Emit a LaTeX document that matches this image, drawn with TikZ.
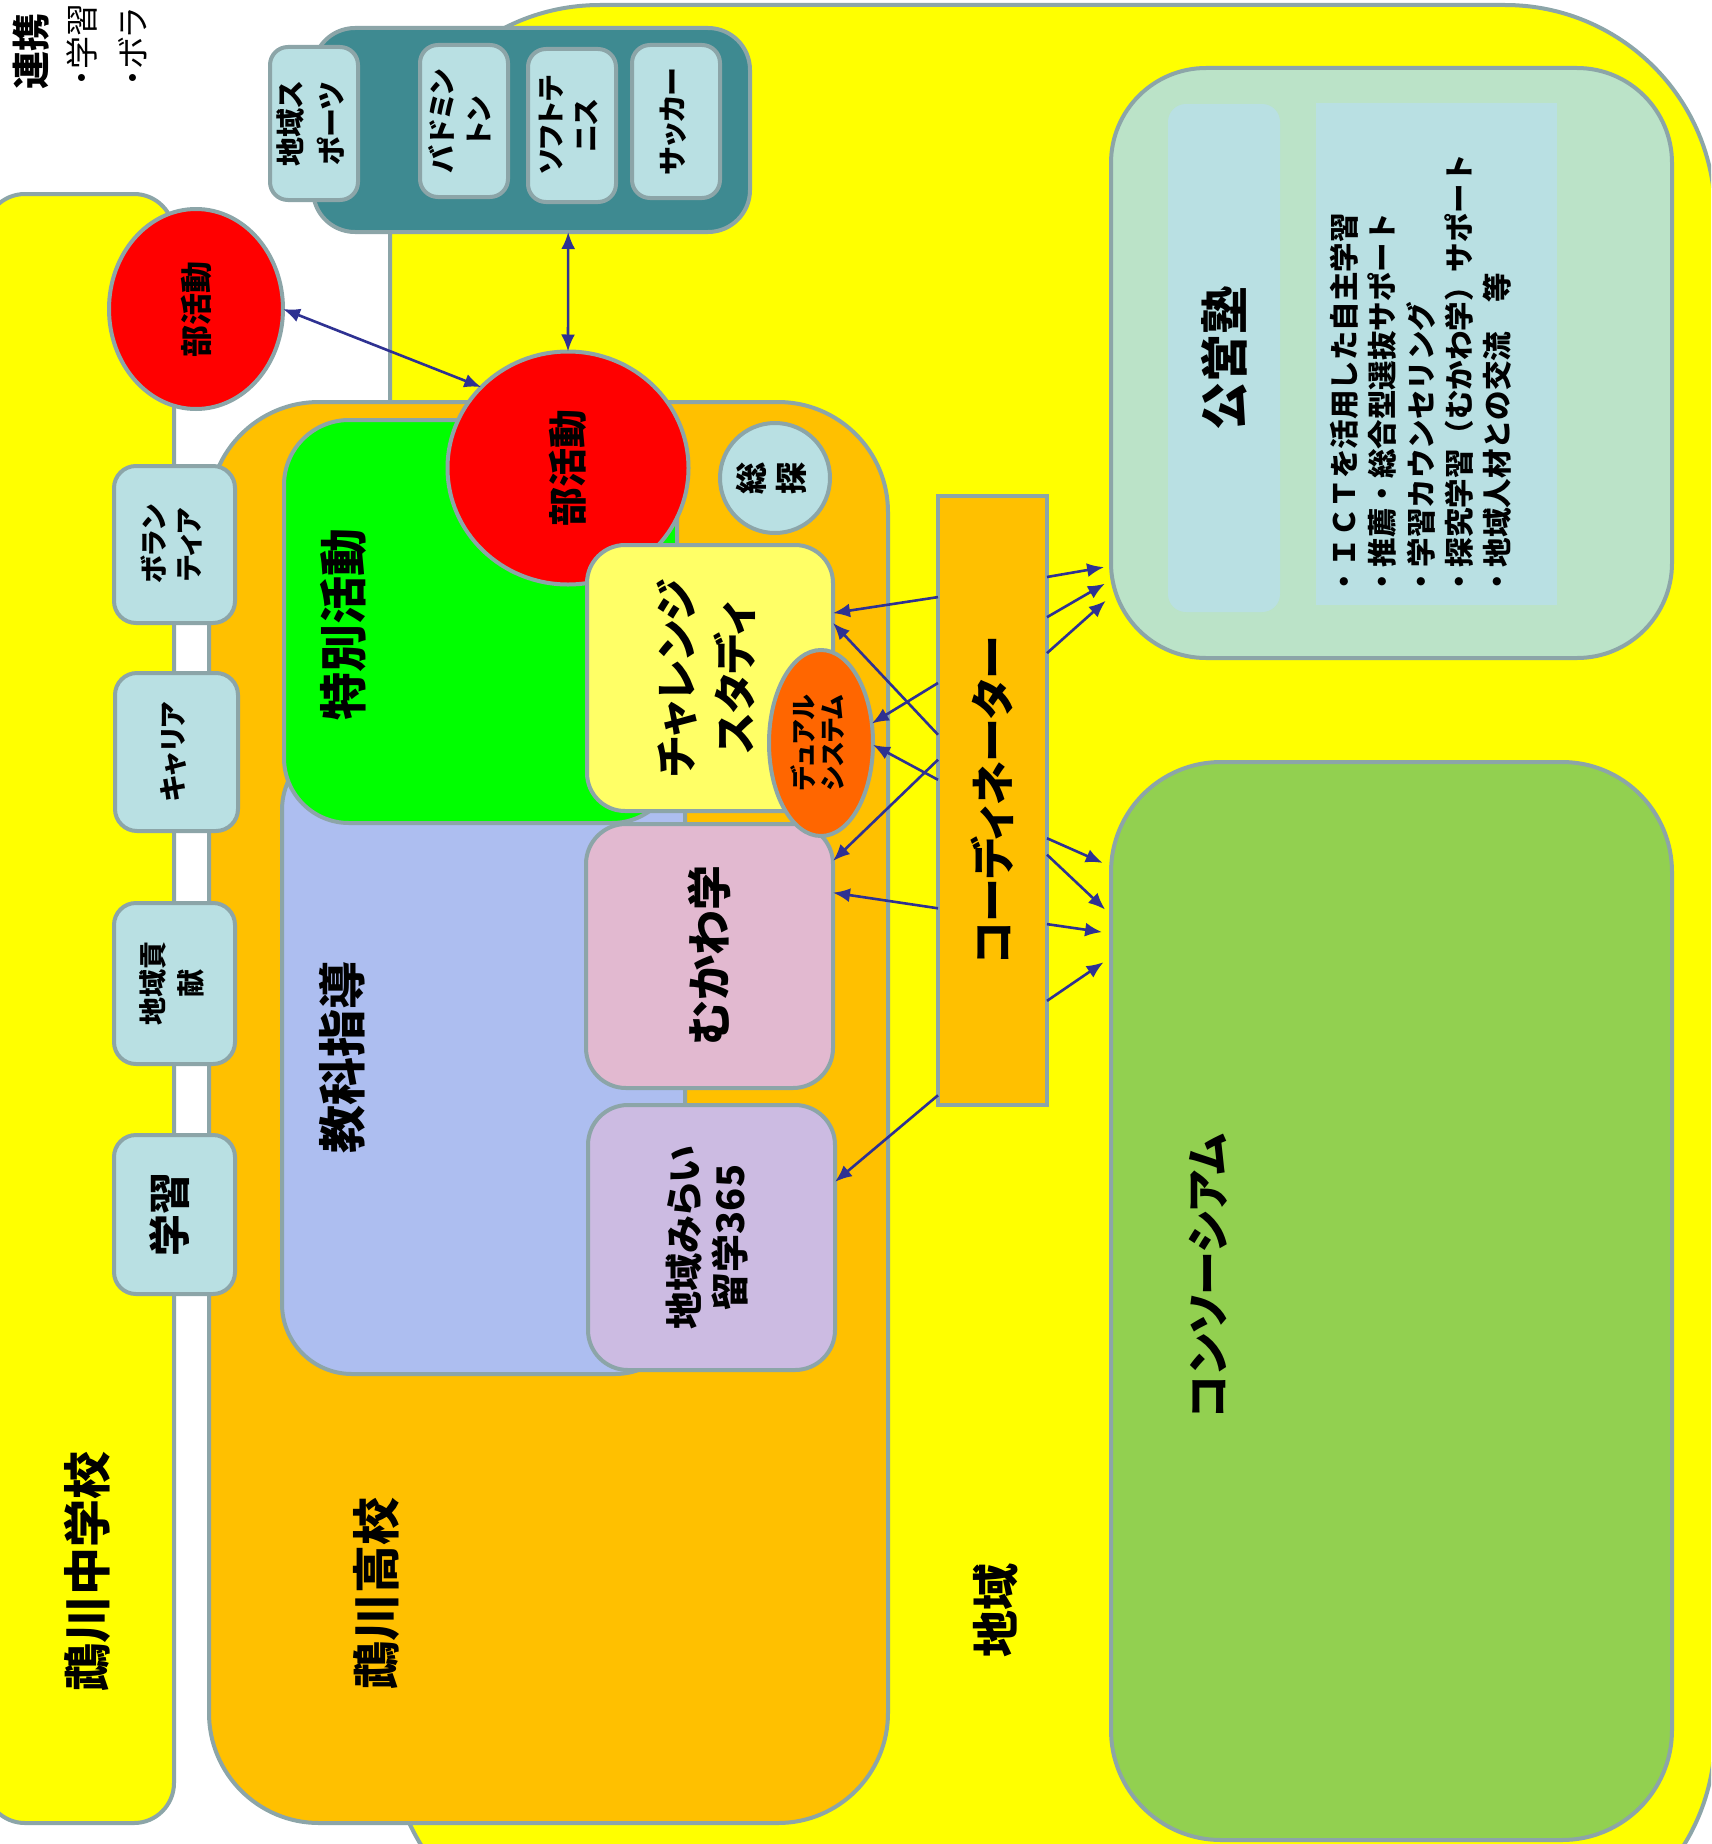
\documentclass[tikz,border=0pt]{standalone}
\usepackage{fontspec}
\setmainfont[RawFeature=+palt]{Noto Sans CJK JP}
\newfontfamily\jpfull{Noto Sans CJK JP}
\usetikzlibrary{calc,arrows.meta,shapes.geometric}
\definecolor{bord}{RGB}{140,165,168}
\definecolor{ylw}{RGB}{255,255,0}
\definecolor{orng}{RGB}{255,192,0}
\definecolor{grn}{RGB}{0,255,0}
\definecolor{blu}{RGB}{173,190,240}
\definecolor{cyanbox}{RGB}{185,224,227}
\definecolor{tealc}{RGB}{62,138,145}
\definecolor{chalc}{RGB}{255,255,102}
\definecolor{dualc}{RGB}{255,102,0}
\definecolor{pinkc}{RGB}{226,185,208}
\definecolor{lavc}{RGB}{204,187,226}
\definecolor{jukuc}{RGB}{187,227,200}
\definecolor{consc}{RGB}{146,208,80}
\definecolor{arrc}{RGB}{46,49,146}
\newcommand\fsz[2]{\fontsize{#1}{#2}\selectfont}
\newcommand\vlab[1]{\rotatebox{90}{\begin{tabular}{@{}c@{}}#1\end{tabular}}}
\begin{document}
\begin{tikzpicture}[x=1pt,y=-1pt,
  region/.style={draw=bord,line width=4pt,inner sep=0pt,outer sep=0pt},
  sbox/.style={region,fill=cyanbox,rounded corners=18pt,align=center},
  lab/.style={rotate=90,inner sep=0pt,align=center},
  arr/.style={draw=arrc,line width=2.6pt,-{Latex[length=17pt,width=14pt]}},
  darr/.style={draw=arrc,line width=2.6pt,{Latex[length=17pt,width=14pt]}-{Latex[length=17pt,width=14pt]}}]
\useasboundingbox (0,0) rectangle (1711,1844);
\fill[white] (0,0) rectangle (1711,1844);
\clip (0,0) rectangle (1711,1844);

% region 地域
\node[region,rounded corners=210pt,fill=ylw,minimum width=1325pt,minimum height=1940pt] (chiiki) at (1052.5,975) {};
\node[lab,font=\bfseries\fsz{47}{56}] (chiikilab) at (996,1610) {地域};

% 中学校
\node[region,rounded corners=40pt,fill=ylw,minimum width=189pt,minimum height=1629pt] (ms) at (79.5,1008.5) {};
\node[lab,font=\bfseries\fsz{48}{56}] (mslab) at (87,1571) {鵡川中学校};

% top-left text
\node[lab,anchor=west,font=\jpfull\bfseries\fsz{38}{44}] (renkei) at (31,90) {連携};
\node[lab,anchor=west,font=\fsz{33}{40}] (renkei2) at (82,86) {・学習};
\node[lab,anchor=west,font=\fsz{33}{40}] (renkei3) at (133,86) {・ボラ};

% small club circle
\node[region,ellipse,fill=red,minimum width=174pt,minimum height=200pt,font=\bfseries\fsz{32}{38}] (club1) at (196,309) {\rotatebox{90}{部活動}};

% teal sports group
\node[region,rounded corners=42pt,fill=tealc,minimum width=437pt,minimum height=204pt] (teal) at (531.5,130) {};
\node[sbox,minimum width=88pt,minimum height=153pt,font=\bfseries\fsz{29}{41}] (sp1) at (314,123.5) {\vlab{地域ス\\ポーツ}};
\node[sbox,minimum width=88pt,minimum height=152pt,font=\bfseries\fsz{28}{37}] (sp2) at (464,121) {\vlab{バドミン\\トン}};
\node[sbox,minimum width=88pt,minimum height=153pt,font=\bfseries\fsz{28}{35}] (sp3) at (572,125.5) {\vlab{ソフトテ\\ニス}};
\node[sbox,minimum width=88pt,minimum height=153pt,font=\bfseries\fsz{29}{36}] (sp4) at (676,121.5) {\vlab{サッカー}};

% 高校
\node[region,rounded corners=110pt,fill=orng,minimum width=679pt,minimum height=1421pt] (hs) at (548.5,1112.5) {};
\node[lab,font=\bfseries\fsz{48}{56}] (hslab) at (376,1593) {鵡川高校};

% 教科指導 / 特別活動
\node[region,rounded corners=70pt,fill=blu,minimum width=403pt,minimum height=634pt] (kyoka) at (483.5,1057) {};
\node[lab,font=\bfseries\fsz{48}{56}] (kyokalab) at (342,1057) {教科指導};
\node[region,rounded corners=65pt,fill=grn,minimum width=393pt,minimum height=403pt] (toku) at (480.5,621.5) {};
\node[lab,font=\bfseries\fsz{48}{56}] (tokulab) at (343,624) {特別活動};

% big club circle
\node[region,ellipse,fill=red,minimum width=241pt,minimum height=233pt,font=\bfseries\fsz{39}{46}] (club2) at (568,468) {\rotatebox{90}{部活動}};

% 総探
\node[region,circle,fill=cyanbox,minimum size=110pt,font=\bfseries\fsz{32}{40}] (souta) at (775,478) {\vlab{総\\探}};

% チャレンジスタディ, むかわ学, デュアル, 地域みらい
\node[region,rounded corners=38pt,fill=chalc,minimum width=246pt,minimum height=266pt,font=\bfseries\fsz{43}{59}] (chal) at (710,678) {\vlab{チャレンジ\\スタディ}};
\node[region,rounded corners=40pt,fill=pinkc,minimum width=247pt,minimum height=264pt,font=\bfseries\fsz{45}{54}] (muka) at (709.5,956) {\rotatebox{90}{むかわ学}};
\node[region,ellipse,fill=dualc,minimum width=104pt,minimum height=186pt,font=\bfseries\fsz{26}{29}] (dual) at (821,743) {\vlab{デュアル\\システム}};
\node[region,rounded corners=40pt,fill=lavc,minimum width=247pt,minimum height=265pt,font=\bfseries\fsz{38}{43}] (mirai) at (711.5,1237.5) {\vlab{地域みらい\\留学365}};

% left small boxes
\node[sbox,rounded corners=22pt,minimum width=121pt,minimum height=157pt,font=\bfseries\fsz{28}{35}] (vol) at (174.5,544.5) {\vlab{ボラン\\ティア}};
\node[sbox,rounded corners=22pt,minimum width=123pt,minimum height=158pt,font=\bfseries\fsz{28}{35}] (car) at (176.5,752) {\vlab{キャリア}};
\node[sbox,rounded corners=22pt,minimum width=121pt,minimum height=161pt,font=\bfseries\fsz{28}{38}] (kou) at (174.5,983.5) {\vlab{地域貢\\献}};
\node[sbox,rounded corners=22pt,minimum width=121pt,minimum height=159pt,font=\bfseries\fsz{42}{50}] (gak) at (174.5,1214.5) {\vlab{学習}};

% coordinator
\node[region,fill=orng,minimum width=109pt,minimum height=609pt,font=\bfseries\fsz{44}{52}] (coord) at (992.5,800.5) {\rotatebox{90}{コーディネーター}};

% 公営塾
\node[region,rounded corners=95pt,fill=jukuc,minimum width=561pt,minimum height=590pt] (juku) at (1391.5,363) {};
\node[fill=cyanbox,rounded corners=18pt,inner sep=0pt,minimum width=112pt,minimum height=508pt,font=\bfseries\fsz{48}{56}] (jukuL) at (1224,358) {\rotatebox{90}{公営塾}};
\node[fill=cyanbox,inner sep=0pt,minimum width=241pt,minimum height=502pt] (jukuR) at (1436.5,354) {};
\node[rotate=90,anchor=north west,align=left,inner sep=0pt,font=\jpfull\bfseries\fsz{29.5}{38.3}] (list) at (1330,597)
  {・ＩＣＴを活用した自主学習\\・推薦・総合型選抜サポート\\・学習カウンセリング\\・探究学習（むかわ学）サポート\\・地域人材との交流　等};

% コンソーシアム
\node[region,rounded corners=110pt,fill=consc,minimum width=561pt,minimum height=1078pt] (cons) at (1391.5,1301) {};
\node[lab,font=\bfseries\fsz{44}{52}] (conslab) at (1208,1276) {コンソーシアム};

% connectors
\draw[darr] (club1.east) -- (club2.137);
\draw[darr] ($(teal.south west)!0.584!(teal.south east)$) -- (club2.north);

\draw[arr] ($(coord.north west)!0.166!(coord.south west)$) -- ($(chal.north east)!0.256!(chal.south east)$);
\draw[arr] ($(coord.north west)!0.392!(coord.south west)$) -- ($(chal.north east)!0.293!(chal.south east)$);
\draw[arr] ($(coord.north west)!0.307!(coord.south west)$) -- (dual.21);
\draw[arr] ($(coord.north west)!0.466!(coord.south west)$) -- (dual.-2);
\draw[arr] ($(coord.north west)!0.433!(coord.south west)$) -- ($(muka.north east)!0.14!(muka.south east)$);
\draw[arr] ($(coord.north west)!0.677!(coord.south west)$) -- ($(muka.north east)!0.26!(muka.south east)$);
\draw[arr] ($(coord.north west)!0.984!(coord.south west)$) -- ($(mirai.north east)!0.29!(mirai.south east)$);

\draw[arr,shorten >=7pt] ($(coord.north east)!0.133!(coord.south east)$) -- ($(juku.north west)!0.844!(juku.south west)$);
\draw[arr,shorten >=7pt] ($(coord.north east)!0.199!(coord.south east)$) -- ($(juku.north west)!0.868!(juku.south west)$);
\draw[arr,shorten >=7pt] ($(coord.north east)!0.258!(coord.south east)$) -- ($(juku.north west)!0.895!(juku.south west)$);

\draw[arr,shorten >=9pt] ($(coord.north east)!0.562!(coord.south east)$) -- ($(cons.north west)!0.097!(cons.south west)$);
\draw[arr,shorten >=8pt] ($(coord.north east)!0.589!(coord.south east)$) -- ($(cons.north west)!0.142!(cons.south west)$);
\draw[arr,shorten >=9pt] ($(coord.north east)!0.703!(coord.south east)$) -- ($(cons.north west)!0.159!(cons.south west)$);
\draw[arr,shorten >=9pt] ($(coord.north east)!0.829!(coord.south east)$) -- ($(cons.north west)!0.181!(cons.south west)$);
\end{tikzpicture}
\end{document}
